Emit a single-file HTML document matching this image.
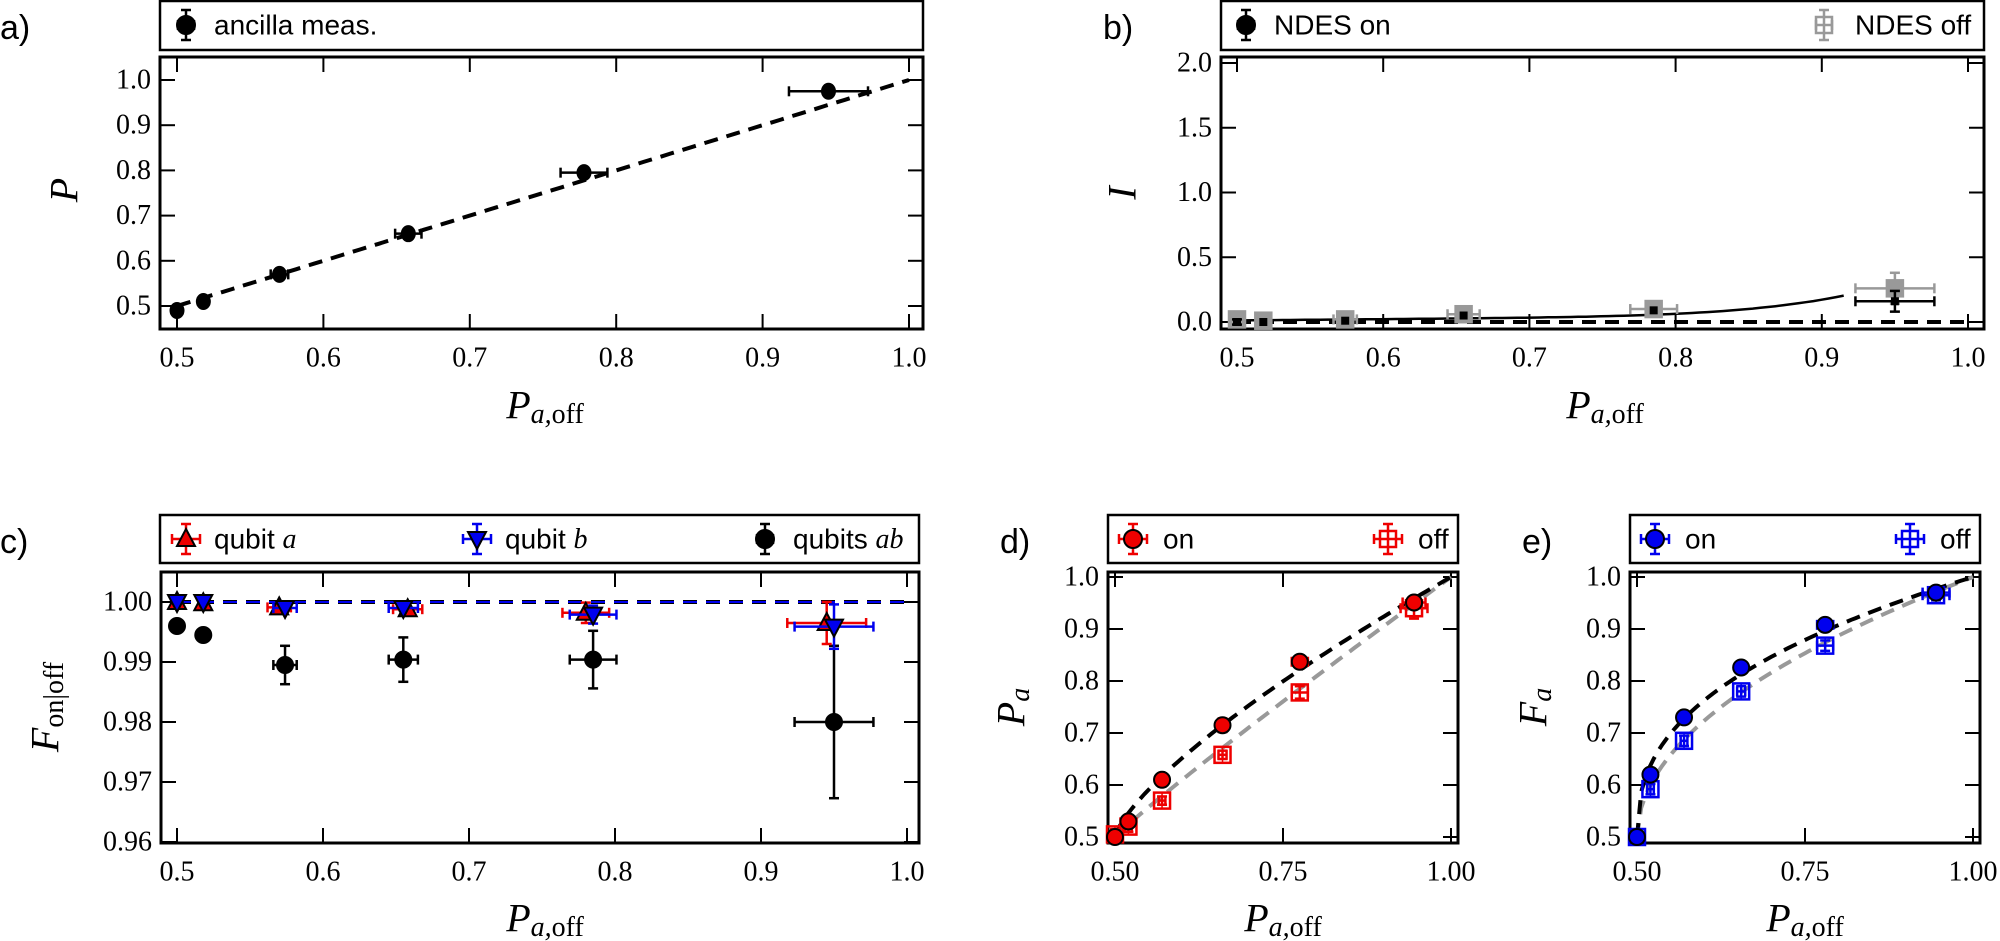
<!DOCTYPE html>
<html><head><meta charset="utf-8"><style>
html,body{margin:0;padding:0;background:#fff;width:2000px;height:941px;overflow:hidden}
svg{display:block}
.t{font-family:"Liberation Serif",serif;font-size:28px}
.s{font-family:"Liberation Sans",sans-serif;font-size:28px}
.p{font-family:"Liberation Sans",sans-serif;font-size:34px}
.m{font-family:"Liberation Serif",serif;font-style:italic;font-size:40px}
</style></head><body>
<svg id="sv" width="2000" height="941" xmlns="http://www.w3.org/2000/svg"></svg>
<script>
var S=document.getElementById('sv'),h='';
function add(s){h+=s;}
function ln(x1,y1,x2,y2,c,w,d){add('<line x1="'+x1+'" y1="'+y1+'" x2="'+x2+'" y2="'+y2+'" stroke="'+c+'" stroke-width="'+w+'"'+(d?' stroke-dasharray="'+d+'"':'')+'/>');}
function txt(x,y,s,cl,anc,extra){add('<text x="'+x+'" y="'+y+'" class="'+cl+'" text-anchor="'+(anc||'start')+'" dominant-baseline="central" '+(extra||'')+'>'+s+'</text>');}
function panel(P){
  P.X=function(v){return P.x0px+(v-P.xa)*(P.x1px-P.x0px)/(P.xb-P.xa);};
  P.Y=function(v){return P.y0px+(v-P.ya)*(P.y1px-P.y0px)/(P.yb-P.ya);};
  add('<rect x="'+P.L+'" y="'+P.T+'" width="'+(P.R-P.L)+'" height="'+(P.B-P.T)+'" fill="none" stroke="#000" stroke-width="3"/>');
  P.xt.forEach(function(v){var x=P.X(v);ln(x,P.B,x,P.B-15,'#000',2);ln(x,P.T,x,P.T+15,'#000',2);txt(x,P.B+29,P.xf(v),'t','middle');});
  P.yt.forEach(function(v){var y=P.Y(v);ln(P.L,y,P.L+15,y,'#000',2);ln(P.R,y,P.R-15,y,'#000',2);txt(P.L-9,y,P.yf(v),'t','end');});
  return P;
}
function curve(P,f,a,b,c,w,d){var pts=[];for(var i=0;i<=80;i++){var x=a+(b-a)*i/80;pts.push(P.X(x).toFixed(1)+','+P.Y(f(x)).toFixed(1));}
  add('<polyline points="'+pts.join(' ')+'" fill="none" stroke="'+c+'" stroke-width="'+w+'"'+(d?' stroke-dasharray="'+d+'"':'')+'/>');}
function eb(P,x,y,xe,ye,c){var X=P.X(x),Y=P.Y(y);
  if(xe){var a=P.X(x-xe),b=P.X(x+xe);ln(a,Y,b,Y,c,2.5);ln(a,Y-5,a,Y+5,c,2.5);ln(b,Y-5,b,Y+5,c,2.5);}
  if(ye){var a=P.Y(y-ye),b=P.Y(y+ye);ln(X,a,X,b,c,2.5);ln(X-5,a,X+5,a,c,2.5);ln(X-5,b,X+5,b,c,2.5);}}
function circ(X,Y,f,r){add('<circle cx="'+X+'" cy="'+Y+'" r="'+(r||8)+'" fill="'+f+'" stroke="#000" stroke-width="2"/>');}
function sq(X,Y,c,fill){add('<rect x="'+(X-8)+'" y="'+(Y-8)+'" width="16" height="16" fill="'+(fill||'none')+'" stroke="'+c+'" stroke-width="2.5"/>');}
function tri(X,Y,f,up){var d=up?('M'+X+','+(Y-10)+' L'+(X+9)+','+(Y+7)+' L'+(X-9)+','+(Y+7)+'Z'):('M'+X+','+(Y+10)+' L'+(X+9)+','+(Y-7)+' L'+(X-9)+','+(Y-7)+'Z');add('<path d="'+d+'" fill="'+f+'" stroke="#000" stroke-width="2"/>');}
function legbox(L,R,T,B){add('<rect x="'+L+'" y="'+T+'" width="'+(R-L)+'" height="'+(B-T)+'" fill="#fff" stroke="#000" stroke-width="2.5"/>');}
var f1=function(v){return v.toFixed(1)},f2=function(v){return v.toFixed(2)};
var XL='P<tspan font-size="28" dy="9">a,</tspan><tspan font-size="28" font-style="normal">off</tspan>';

// Panel a
legbox(160,923,1,50);
eb({X:function(v){return 186+v},Y:function(v){return 25+v}},0,0,8,15,'#000');circ(186,25,'#000',9);txt(214,25,'ancilla meas.','s');
txt(0,28,'a)','p');
var A=panel({L:160,R:923,T:57,B:329,xa:0.5,xb:1,x0px:177,x1px:909,ya:0.5,yb:1,y0px:306,y1px:80,xt:[0.5,0.6,0.7,0.8,0.9,1.0],yt:[0.5,0.6,0.7,0.8,0.9,1.0],xf:f1,yf:f1});
curve(A,function(x){return x},0.5,1,'#000',4,'14,9');
[[0.5,0.49,0,0],[0.518,0.51,0,0],[0.57,0.57,0.006,0],[0.658,0.66,0.009,0.005],[0.778,0.795,0.016,0],[0.945,0.975,0.027,0]].forEach(function(p){eb(A,p[0],p[1],p[2],p[3],'#000');add('<ellipse cx="'+A.X(p[0])+'" cy="'+A.Y(p[1])+'" rx="7.5" ry="8.5" fill="#000"/>');});
txt(64,190,'P','m','middle','transform="rotate(-90 64 190)"');
txt(545,405,XL,'m','middle');

// Panel b
legbox(1221,1984,1,50);
eb({X:function(v){return 1246+v},Y:function(v){return 25+v}},0,0,8,15,'#000');circ(1246,25,'#000',9);txt(1274,25,'NDES on','s');
eb({X:function(v){return 1824+v},Y:function(v){return 25+v}},0,0,8,15,'#999');sq(1824,25,'#999');txt(1855,25,'NDES off','s');
txt(1103,28,'b)','p');
var B=panel({L:1221,R:1984,T:57,B:329,xa:0.5,xb:1,x0px:1237,x1px:1968,ya:0,yb:2,y0px:322,y1px:63,xt:[0.5,0.6,0.7,0.8,0.9,1.0],yt:[0,0.5,1,1.5,2],xf:f1,yf:f1});
curve(B,function(x){return 0},0.5,1,'#000',4,'14,9');
curve(B,function(x){return 0.012+0.10*(x-0.5)+0.5*Math.pow((x-0.5)/0.415,6)*0.3},0.5,0.915,'#000',2.5);
[[0.5,0.02,0,0.03],[0.518,0.01,0,0.02],[0.574,0.02,0.008,0.02],[0.655,0.06,0.011,0.02],[0.785,0.1,0.016,0.03],[0.95,0.26,0.027,0.12]].forEach(function(p){eb(B,p[0],p[1],p[2],p[3],'#999');sq(B.X(p[0]),B.Y(p[1]),'#999','#999');});
[[0.5,0.0,0,0.02],[0.518,0.0,0,0],[0.574,0.01,0,0],[0.655,0.05,0,0],[0.785,0.09,0,0],[0.95,0.16,0.027,0.08]].forEach(function(p){eb(B,p[0],p[1],p[2],p[3],'#000');add('<rect x="'+(B.X(p[0])-4)+'" y="'+(B.Y(p[1])-4)+'" width="8" height="8" fill="#000"/>');});
txt(1122,193,'I','m','middle','transform="rotate(-90 1122 193)"');
txt(1605,405,XL,'m','middle');

// Panel c
legbox(160,919,515,563);
eb({X:function(v){return 186+v},Y:function(v){return 539+v}},0,0,14,15,'#e00');tri(186,539,'#e00',1);txt(214,539,'qubit <tspan font-family="Liberation Serif" font-style="italic">a</tspan>','s');
eb({X:function(v){return 477+v},Y:function(v){return 539+v}},0,0,14,15,'#00e');tri(477,539,'#00e',0);txt(505,539,'qubit <tspan font-family="Liberation Serif" font-style="italic">b</tspan>','s');
eb({X:function(v){return 765+v},Y:function(v){return 539+v}},0,0,8,15,'#000');circ(765,539,'#000',9);txt(793,539,'qubits <tspan font-family="Liberation Serif" font-style="italic">ab</tspan>','s');
txt(0,542,'c)','p');
var C=panel({L:161,R:919,T:572,B:843,xa:0.5,xb:1,x0px:177,x1px:907,ya:0.96,yb:1.0,y0px:842,y1px:602,xt:[0.5,0.6,0.7,0.8,0.9,1.0],yt:[0.96,0.97,0.98,0.99,1.0],xf:f1,yf:f2});
curve(C,function(x){return 1},0.5,1,'#000',4,'14,9');
curve(C,function(x){return 1},0.5,1,'#00e',2,'14,9');
[[0.5,0.996,0,0],[0.518,0.9945,0,0],[0.574,0.9895,0.008,0.0032],[0.655,0.9904,0.01,0.0037],[0.785,0.9904,0.016,0.0048],[0.95,0.980,0.027,0.0127]].forEach(function(p){eb(C,p[0],p[1],p[2],p[3],'#000');circ(C.X(p[0]),C.Y(p[1]),'#000');});
[[0.5,1.0,0,0],[0.518,0.9998,0,0],[0.57,0.9991,0.008,0],[0.658,0.9988,0.01,0],[0.78,0.9982,0.016,0.0017],[0.945,0.9965,0.027,0.0035]].forEach(function(p){eb(C,p[0],p[1],p[2],p[3],'#e00');tri(C.X(p[0]),C.Y(p[1]),'#e00',1);});
[[0.5,1.0,0,0],[0.518,1.0,0,0],[0.574,0.999,0.008,0],[0.655,0.999,0.01,0],[0.785,0.9979,0.016,0.0015],[0.95,0.9959,0.027,0.0037]].forEach(function(p){eb(C,p[0],p[1],p[2],p[3],'#00e');tri(C.X(p[0]),C.Y(p[1]),'#00e',0);});
txt(45,707,'F<tspan font-size="28" dy="9" font-style="normal">on|off</tspan>','m','middle','transform="rotate(-90 45 707)"');
txt(545,918,XL,'m','middle');

function small(L,R,col,lab,yl,ons,offs,fb,fg){
  legbox(L,R,515,563);
  eb({X:function(v){return L+25+v},Y:function(v){return 539+v}},0,0,14,15,col);circ(L+25,539,col,9);txt(L+55,539,'on','s');
  eb({X:function(v){return R-70+v},Y:function(v){return 539+v}},0,0,14,15,col);sq(R-70,539,col);txt(R-40,539,'off','s');
  txt(L-108,542,lab,'p');
  var x0=L+7,x1=L+7+336;
  var D=panel({L:L,R:R,T:572,B:843,xa:0.5,xb:1,x0px:x0,x1px:x1,ya:0.5,yb:1,y0px:837,y1px:577,xt:[0.5,0.75,1.0],yt:[0.5,0.6,0.7,0.8,0.9,1.0],xf:f2,yf:f1});
  curve(D,fg,0.5,1,'#999',4,'14,9');
  curve(D,fb,0.5,1,'#000',4,'14,9');
  offs.forEach(function(p){eb(D,p[0],p[1],p[2],p[3],col);sq(D.X(p[0]),D.Y(p[1]),col);add('<line x1="'+D.X(p[0])+'" y1="'+(D.Y(p[1])-8)+'" x2="'+D.X(p[0])+'" y2="'+(D.Y(p[1])+8)+'" stroke="'+col+'" stroke-width="1.5"/>');});
  ons.forEach(function(p){eb(D,p[0],p[1],p[2],p[3],col);circ(D.X(p[0]),D.Y(p[1]),col);});
  txt(L-97,707,yl,'m','middle','transform="rotate(-90 '+(L-97)+' 707)"');
  txt((L+R)/2,918,XL,'m','middle');
}
function tt(x){return (x-0.5)/0.5;}
small(1108,1458,'#e00','d)','P<tspan font-size="28" dy="9">a</tspan>',
 [[0.5,0.5,0.005,0.01],[0.52,0.53,0.005,0.01],[0.57,0.61,0.005,0.012],[0.66,0.715,0.006,0.013],[0.775,0.837,0.012,0.012],[0.945,0.951,0.017,0.01]],
 [[0.5,0.505,0.005,0.01],[0.52,0.52,0.005,0.01],[0.57,0.57,0.005,0.008],[0.66,0.658,0.006,0.008],[0.775,0.778,0.012,0.012],[0.945,0.94,0.02,0.02]],
 function(x){return 0.5+0.5*Math.pow(tt(x),0.74);},function(x){return 0.5+0.5*Math.pow(tt(x),0.94);});
small(1630,1980,'#00e','e)','F<tspan font-size="28" dy="9">a</tspan>',
 [[0.5,0.5,0.005,0.01],[0.52,0.62,0.005,0.012],[0.57,0.73,0.005,0.01],[0.655,0.826,0.006,0.01],[0.78,0.908,0.012,0.006],[0.945,0.97,0.02,0.008]],
 [[0.5,0.5,0.005,0.01],[0.52,0.592,0.005,0.01],[0.57,0.685,0.005,0.01],[0.655,0.78,0.006,0.01],[0.78,0.868,0.012,0.01],[0.945,0.965,0.02,0.01]],
 function(x){return 0.5+0.5*Math.pow(Math.max(tt(x),0),0.4);},function(x){return 0.5+0.5*Math.pow(Math.max(tt(x),0),0.5);});
S.innerHTML=h;
</script>
</body></html>
